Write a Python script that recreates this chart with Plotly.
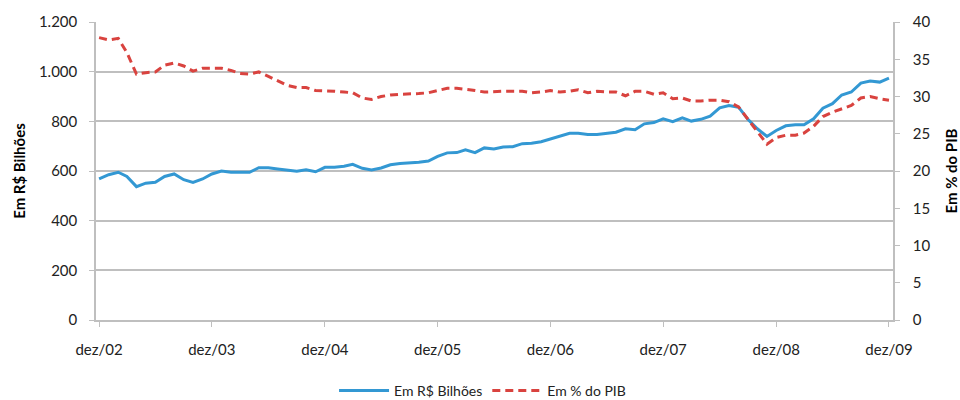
import pandas as pd
import plotly.graph_objects as go

# Monthly series, dez/2002 .. dez/2009
months = pd.date_range("2002-12-01", periods=85, freq="MS")

valor_bilhoes = [
    568, 585, 595, 578, 537, 551, 555, 578, 588, 565, 554, 568,
    588, 600, 595, 595, 595, 613, 613, 608, 603, 599, 605, 597,
    615, 615, 619, 627, 611, 604, 612, 625, 630, 631, 635, 640,
    659, 673, 674, 685, 674, 693, 689, 697, 698, 710, 712, 718,
    729, 741, 752, 752, 747, 747, 751, 756, 770, 766, 790, 795,
    810, 799, 814, 801, 808, 821, 854, 864, 857, 807, 770, 739,
    763, 782, 786, 786, 810, 853, 871, 906, 918, 954, 962, 958,
    974,
]

pct_pib = [
    37.9, 37.6, 37.8, 35.9, 33.0, 33.2, 33.3, 34.2, 34.5, 34.1, 33.4, 33.8,
    33.8, 33.8, 33.5, 33.1, 33.0, 33.3, 32.7, 32.1, 31.5, 31.2, 31.2, 30.8,
    30.8, 30.7, 30.6, 30.5, 29.8, 29.6, 30.0, 30.2, 30.3, 30.3, 30.4, 30.5,
    30.8, 31.1, 31.1, 31.0, 30.8, 30.6, 30.7, 30.7, 30.7, 30.7, 30.5, 30.6,
    30.8, 30.6, 30.7, 30.9, 30.5, 30.7, 30.6, 30.6, 30.1, 30.7, 30.7, 30.3,
    30.5, 29.7, 29.8, 29.4, 29.4, 29.5, 29.5, 29.3, 28.6, 26.9, 25.3, 23.6,
    24.5, 24.8, 24.8, 25.1, 26.0, 27.3, 27.9, 28.3, 28.8, 29.8, 30.0, 29.7,
    29.5,
]

left_ticks = [0, 200, 400, 600, 800, 1000, 1200]
left_tick_text = ["0", "200", "400", "600", "800", "1.000", "1.200"]
right_ticks = [0, 5, 10, 15, 20, 25, 30, 35, 40]
x_tick_dates = pd.date_range("2002-12-01", periods=8, freq="12MS")
x_tick_text = ["dez/02", "dez/03", "dez/04", "dez/05", "dez/06", "dez/07", "dez/08", "dez/09"]

BLUE = "#3398D3"
RED = "#D9433F"
GRID = "#BFBFBF"
FONT = "Lato, 'Liberation Sans', sans-serif"

fig = go.Figure()
fig.add_trace(go.Scatter(
    x=months, y=valor_bilhoes, name="Em R$ Bilhões", mode="lines",
    line=dict(color=BLUE, width=3), yaxis="y",
))
fig.add_trace(go.Scatter(
    x=months, y=pct_pib, name="Em % do PIB", mode="lines",
    line=dict(color=RED, width=3, dash="8px,5px"), yaxis="y2",
))

fig.update_layout(
    width=960, height=400,
    margin=dict(l=96, r=67, t=22, b=80, autoexpand=False),
    paper_bgcolor="white", plot_bgcolor="white",
    font=dict(family=FONT, size=15, color="#222222"),
    showlegend=True,
    legend=dict(
        orientation="h", x=0.485, xanchor="center", y=-0.238, yanchor="middle",
        font=dict(size=14, color="#222222"), itemwidth=50,
    ),
    xaxis=dict(
        range=[months[0] - pd.Timedelta(days=10), months[-1] + pd.Timedelta(days=13)],
        tickvals=x_tick_dates, ticktext=x_tick_text,
        showgrid=False, zeroline=False, automargin=False,
        showline=True, linecolor=GRID, linewidth=1.5,
        ticks="outside", ticklen=5, tickcolor=GRID,
        ticklabelstandoff=10,
    ),
    yaxis=dict(
        range=[0, 1200], tickvals=left_ticks, ticktext=left_tick_text,
        showgrid=True, gridcolor=GRID, gridwidth=1.5, zeroline=False,
        showline=True, linecolor=GRID, linewidth=1.5, automargin=False,
        ticks="outside", ticklen=5, tickcolor=GRID,
        ticklabelstandoff=9,
        title=dict(text="<b>Em R$ Bilhões</b>", font=dict(size=15, color="#000000"), standoff=10),
    ),
    yaxis2=dict(
        range=[0, 40], tickvals=right_ticks, overlaying="y", side="right",
        showgrid=False, zeroline=False, automargin=False,
        showline=True, linecolor=GRID, linewidth=1.5,
        ticks="outside", ticklen=5, tickcolor=GRID,
        ticklabelstandoff=10,
        title=dict(text="<b>Em % do PIB</b>", font=dict(size=15, color="#000000"), standoff=22),
    ),
)

fig.write_html("out.html")
